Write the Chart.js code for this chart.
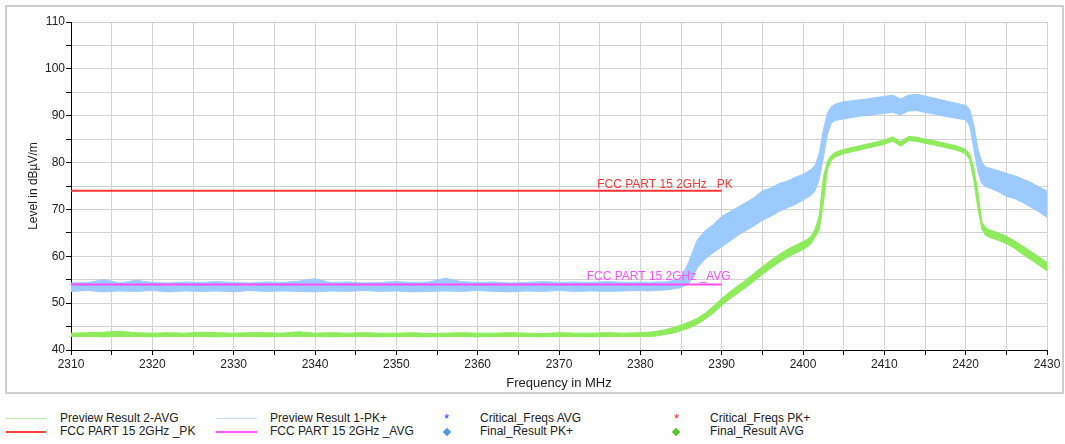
<!DOCTYPE html>
<html>
<head>
<meta charset="utf-8">
<script src="https://cdn.jsdelivr.net/npm/chart.js@4/dist/chart.umd.min.js"></script>
<style>
  html, body { margin:0; padding:0; background:#fff; }
  body { width:1065px; height:444px; position:relative; overflow:hidden; font-family:"Liberation Sans", Arial, sans-serif; }
  #frame { position:absolute; left:5px; top:5px; width:1055px; height:385px; border:2px solid #cdcdcd; }
  #c { position:absolute; left:0; top:0; }
  .lg { position:absolute; font-size:12px; color:#222; line-height:13px; white-space:nowrap; }
  .ln { position:absolute; }
  .dia { position:absolute; width:6px; height:6px; transform:rotate(45deg); }
</style>
</head>
<body>
<div id="frame"></div>
<canvas id="c" width="1065" height="400"></canvas>

<div class="ln" style="left:6px;top:418px;width:40px;height:1px;background:#bff0a4"></div>
<div class="lg" style="left:60px;top:412px">Preview Result 2-AVG</div>
<div class="ln" style="left:6px;top:431px;width:40px;height:2px;background:#ff4040"></div>
<div class="lg" style="left:60px;top:425px">FCC PART 15 2GHz _PK</div>

<div class="ln" style="left:216px;top:418px;width:41px;height:1px;background:#c6dcf3"></div>
<div class="lg" style="left:270px;top:412px">Preview Result 1-PK+</div>
<div class="ln" style="left:216px;top:431px;width:41px;height:2px;background:#ff55ff"></div>
<div class="lg" style="left:270px;top:425px">FCC PART 15 2GHz _AVG</div>

<div class="lg" style="left:444px;top:412px;color:#2040ff;font-size:13px">*</div>
<div class="lg" style="left:480px;top:412px">Critical_Freqs AVG</div>
<div class="dia" style="left:444px;top:429px;background:#4a9be8"></div>
<div class="lg" style="left:480px;top:425px">Final_Result PK+</div>

<div class="lg" style="left:674px;top:412px;color:#ff2020;font-size:13px">*</div>
<div class="lg" style="left:710px;top:412px">Critical_Freqs PK+</div>
<div class="dia" style="left:673px;top:429px;background:#55c532"></div>
<div class="lg" style="left:710px;top:425px">Final_Result AVG</div>

<script>
// ---- data ----
const freq = [
  2310,2312,2314,2316,2318,2320,2322,2324,2326,2328,2330,2332,2334,2336,2338,2340,2342,2344,2346,2348,2350,2352,2354,2356,2358,2360,2362,2364,2366,2368,2370,2372,2374,2376,2378,2380,
  2381,2382,2383,2384,2385,2386,2387,2388,2389,2390,2391,2392,2393,2394,2395,2396,2397,2398,2399,2400,
  2400.5,2401,2401.5,2402,2402.5,2403,2403.5,2404,
  2405,2406,2407,2408,2409,2410,2411,2412,2413,2414,2415,2416,2417,2418,2419,2420,
  2420.5,2421,2421.5,2422,2422.5,2423,
  2424,2425,2426,2427,2428,2429,2430
];
// Preview Result 1-PK+ (upper and lower edge of the trace)
const peakHi = [
  54.3,54.4,55.0,54.3,54.9,54.4,54.3,54.5,54.4,54.6,54.4,54.3,54.5,54.4,54.7,55.2,54.4,54.5,54.3,54.4,54.6,54.4,54.5,55.3,54.6,54.4,54.5,54.3,54.4,54.6,54.4,54.5,54.4,54.6,54.4,54.5,
  54.4,54.5,54.5,54.8,55.3,59.0,63.5,65.5,66.8,68.5,69.5,70.5,71.5,72.5,74.0,74.5,75.5,76.0,76.8,77.5,
  78.0,78.5,79.5,82.0,87.0,90.5,92.0,92.5,
  93.0,93.2,93.4,93.6,93.9,94.1,94.4,93.6,94.4,94.6,94.2,93.8,93.4,93.0,92.6,92.2,
  91.4,88.0,83.0,80.0,79.0,78.8,
  78.3,77.7,77.2,76.5,75.8,74.8,74.0
];
const peakLo = [
  52.5,52.7,52.4,52.6,52.5,52.7,52.4,52.6,52.5,52.6,52.4,52.7,52.5,52.6,52.5,52.4,52.6,52.5,52.7,52.5,52.6,52.4,52.5,52.6,52.5,52.7,52.5,52.4,52.6,52.5,52.7,52.5,52.6,52.5,52.6,52.7,
  52.6,52.7,52.8,53.0,53.3,54.2,57.5,59.5,60.8,62.0,63.2,64.5,65.5,66.5,67.7,68.5,69.5,70.3,71.0,72.0,
  72.5,73.0,74.0,76.5,81.0,86.0,88.5,89.0,
  89.3,89.6,89.9,90.1,90.3,90.5,90.7,90.2,91.0,91.1,90.7,90.4,90.0,89.7,89.4,89.1,
  87.8,83.0,78.0,75.5,74.8,74.5,
  73.8,72.8,72.3,71.5,70.5,69.5,68.3
];
// Preview Result 2-AVG (upper and lower edge of the trace)
const avgHi = [
  43.6,43.7,43.8,44.0,43.7,43.6,43.7,43.6,43.8,43.7,43.6,43.7,43.7,43.6,43.9,43.6,43.7,43.6,43.7,43.6,43.6,43.7,43.5,43.6,43.7,43.6,43.6,43.7,43.6,43.5,43.7,43.6,43.6,43.7,43.6,43.7,
  43.8,44.0,44.3,44.8,45.3,46.0,46.8,47.9,49.4,51.0,52.4,53.7,55.0,56.4,57.8,59.1,60.3,61.4,62.3,63.1,
  63.6,64.3,65.8,68.8,76.8,80.3,81.6,82.2,
  82.8,83.2,83.6,84.0,84.4,84.8,85.5,84.5,85.6,85.4,85.0,84.7,84.3,83.9,83.5,82.8,
  81.8,78.8,73.8,67.3,66.0,65.6,
  65.0,64.3,63.3,62.2,61.1,59.9,58.7
];
const avgLo = [
  42.9,42.9,42.8,42.9,42.9,42.8,42.9,42.9,42.9,42.8,42.9,42.9,42.8,42.9,42.9,42.9,42.8,42.9,42.9,42.8,42.9,42.9,42.8,42.9,42.9,42.8,42.9,42.9,42.9,42.8,42.9,42.9,42.8,42.9,42.9,42.9,
  42.9,43.0,43.3,43.6,44.1,44.7,45.5,46.6,47.9,49.5,50.9,52.1,53.4,54.7,56.1,57.4,58.6,59.7,60.6,61.4,
  62.0,62.7,64.1,65.7,71.2,78.5,80.4,81.2,
  81.9,82.3,82.7,83.1,83.5,83.9,84.6,83.5,84.7,84.5,84.1,83.8,83.4,83.0,82.6,81.9,
  80.6,76.2,70.2,65.7,64.4,64.0,
  63.4,62.7,61.7,60.4,59.3,58.1,56.9
];
// limit lines
const limitFreq = [2310, 2390];
const limitPK = [74, 74];
const limitAVG = [54, 54];
const limitPKLabel = 'FCC PART 15 2GHz _PK';
const limitAVGLabel = 'FCC PART 15 2GHz _AVG';
// axis ticks
const xMin = 2310, xMax = 2430, xStep = 5, xLabelStep = 10;
const yMin = 40, yMax = 110, yStep = 5, yLabelStep = 10;

// ---- chart ----
const BLUE = '#9ccaff';
const GREEN = '#8deb5c';
const RED = '#ff3535';
const MAGENTA = '#ff4cff';
const FONT = '"Liberation Sans", Arial, sans-serif';
const pts = (xs, ys) => xs.map((x, i) => ({x: x, y: ys[i]}));

const band = (label, data, color, order, fill) => ({
  label, data, order, fill: fill ? '-1' : false,
  borderColor: color, backgroundColor: color, borderWidth: 1,
  pointRadius: 0, tension: 0
});

const limitLabels = {
  id: 'limitLabels',
  afterDatasetsDraw(chart) {
    const ctx = chart.ctx, xs = chart.scales.x, ys = chart.scales.y;
    ctx.save();
    ctx.font = '12px ' + FONT;
    ctx.textBaseline = 'alphabetic';
    ctx.textAlign = 'left';
    ctx.fillStyle = RED;
    ctx.fillText(limitPKLabel, xs.getPixelForValue(2374.7), ys.getPixelForValue(limitPK[0]) - 3);
    ctx.fillStyle = MAGENTA;
    ctx.fillText(limitAVGLabel, xs.getPixelForValue(2373.4), ys.getPixelForValue(limitAVG[0]) - 4);
    ctx.restore();
  }
};

new Chart(document.getElementById('c'), {
  type: 'line',
  data: {
    datasets: [
      {label: limitPKLabel, data: pts(limitFreq, limitPK), borderColor: RED, borderWidth: 2, pointRadius: 0, fill: false, order: 0},
      {label: limitAVGLabel, data: pts(limitFreq, limitAVG), borderColor: MAGENTA, borderWidth: 2, pointRadius: 0, fill: false, order: 0},
      band('Preview Result 2-AVG lo', pts(freq, avgLo), GREEN, 1, false),
      band('Preview Result 2-AVG', pts(freq, avgHi), GREEN, 1, true),
      band('Preview Result 1-PK+ lo', pts(freq, peakLo), BLUE, 2, false),
      band('Preview Result 1-PK+', pts(freq, peakHi), BLUE, 2, true)
    ]
  },
  options: {
    responsive: false,
    animation: false,
    devicePixelRatio: 1,
    layout: { padding: { left: 6, top: 22, right: 18, bottom: 8 } },
    plugins: { legend: { display: false }, tooltip: { enabled: false } },
    scales: {
      x: {
        type: 'linear', min: xMin, max: xMax,
        ticks: {
          stepSize: xStep, autoSkip: false, maxRotation: 0, padding: 2,
          color: '#222', font: { family: FONT, size: 12 },
          callback: v => (v % xLabelStep === 0 ? String(v) : '')
        },
        grid: { color: '#d2d2d2', tickColor: '#000', tickLength: 5, drawTicks: true },
        border: { color: '#000', width: 1 },
        title: { display: true, text: 'Frequency in MHz', color: '#222',
                 font: { family: FONT, size: 13 }, padding: { top: 0, bottom: 1 } },
        afterFit: s => { s.height = 42; }
      },
      y: {
        type: 'linear', min: yMin, max: yMax,
        ticks: {
          stepSize: yStep, autoSkip: false, padding: 1,
          color: '#222', font: { family: FONT, size: 12 },
          callback: v => (v % yLabelStep === 0 ? String(v) : '')
        },
        grid: { color: '#d2d2d2', tickColor: '#000', tickLength: 5, drawTicks: true },
        border: { color: '#000', width: 1 },
        title: { display: true, text: 'Level in dBµV/m', color: '#222',
                 font: { family: FONT, size: 12 }, padding: { top: 20, bottom: 0 } },
        afterFit: s => { s.width = 65; }
      }
    }
  },
  plugins: [limitLabels]
});
</script>
</body>
</html>
